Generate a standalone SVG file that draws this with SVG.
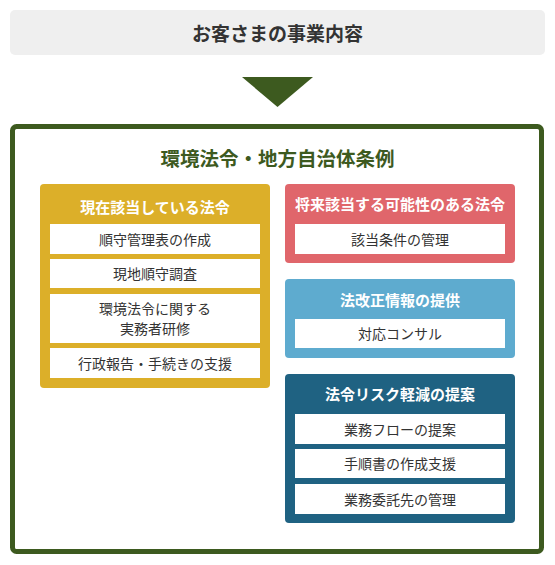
<svg xmlns="http://www.w3.org/2000/svg" width="555" height="565" viewBox="0 0 555 565">
<style>
text{font-family:"Noto Sans CJK JP","Noto Sans",sans-serif;text-anchor:middle;dominant-baseline:central}
.h{font-weight:bold;font-size:15px;fill:#fff}
.r{font-size:14px;fill:#333}
.row{fill:#fff}
</style>
<rect width="555" height="565" fill="#fff"/>
<g id="customer">
<rect x="10" y="10" width="535" height="45" rx="5" fill="#efefef"/>
<text x="277.5" y="32" style="font-weight:bold;font-size:19px;fill:#333">お客さまの事業内容</text>
</g>
<g id="connectors">
<polygon points="242,77 313,77 277.5,107" fill="#3d5a1f"/>
</g>
<g id="outer">
<rect x="12.5" y="126.5" width="529" height="425" rx="4" fill="#fff" stroke="#3d5a1f" stroke-width="5"/>
<text x="277.5" y="157" style="font-weight:bold;font-size:19.5px;fill:#3d5a1f">環境法令・地方自治体条例</text>
</g>
<g id="current">
<rect x="40" y="184" width="230" height="204" rx="4" fill="#dcaf29"/>
<text class="h" x="155" y="206">現在該当している法令</text>
<rect class="row" x="50" y="224" width="210" height="30"/>
<text class="r" x="155" y="238.5">順守管理表の作成</text>
<rect class="row" x="50" y="259" width="210" height="29"/>
<text class="r" x="155" y="273">現地順守調査</text>
<rect class="row" x="50" y="294" width="210" height="49"/>
<text class="r" x="155" y="308">環境法令に関する</text>
<text class="r" x="155" y="328">実務者研修</text>
<rect class="row" x="50" y="348" width="210" height="30"/>
<text class="r" x="155" y="362.5">行政報告・手続きの支援</text>
</g>
<g id="future">
<rect x="285" y="184" width="230" height="79" rx="4" fill="#e0666b"/>
<text class="h" x="400" y="203">将来該当する可能性のある法令</text>
<rect class="row" x="295" y="224" width="210" height="30"/>
<text class="r" x="400" y="238.5">該当条件の管理</text>
</g>
<g id="revision">
<rect x="285" y="279" width="230" height="79" rx="4" fill="#5eabcf"/>
<text class="h" x="400" y="299">法改正情報の提供</text>
<rect class="row" x="295" y="319" width="210" height="29"/>
<text class="r" x="400" y="333">対応コンサル</text>
</g>
<g id="risk">
<rect x="285" y="374" width="230" height="149" rx="4" fill="#1f6282"/>
<text class="h" x="400" y="393">法令リスク軽減の提案</text>
<rect class="row" x="295" y="414" width="210" height="30"/>
<text class="r" x="400" y="428.5">業務フローの提案</text>
<rect class="row" x="295" y="449" width="210" height="29"/>
<text class="r" x="400" y="463">手順書の作成支援</text>
<rect class="row" x="295" y="484" width="210" height="30"/>
<text class="r" x="400" y="498.5">業務委託先の管理</text>
</g>
</svg>
